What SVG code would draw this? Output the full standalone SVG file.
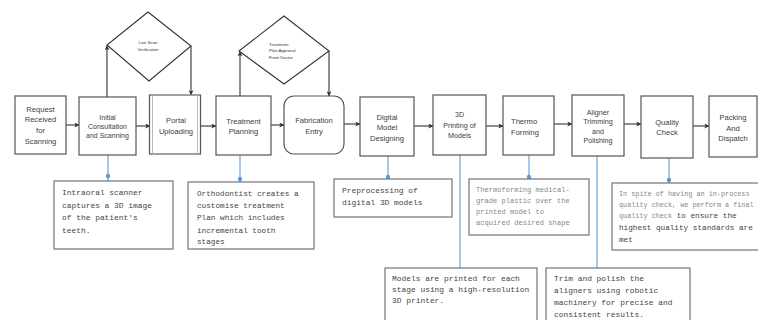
<svg xmlns="http://www.w3.org/2000/svg" width="758" height="320" viewBox="0 0 758 320">
<defs>
<marker id="ah" viewBox="0 0 8 8" refX="7.5" refY="4" markerWidth="5" markerHeight="5" orient="auto" markerUnits="userSpaceOnUse">
<path d="M0,0 L8,4 L0,8 L2,4 Z" fill="#333"/>
</marker>
</defs>
<style>
.box{fill:#fff;stroke:#555;stroke-width:1.2}
.lbl{font-family:"Liberation Sans","Open Sans",sans-serif;font-size:7.6px;fill:#404040;text-anchor:middle}
.dia{fill:#fff;stroke:#333;stroke-width:1.1}
.dt{font-family:"Liberation Sans",sans-serif;font-size:4.3px;fill:#333}
.con{stroke:#333;stroke-width:1.1;fill:none}
.blue{stroke:#5b9bd5;stroke-width:1.1;fill:none}
.dot{fill:#5b9bd5}
.cb{fill:#fff;stroke:#666;stroke-width:1.1}
.ct{font-family:"Liberation Mono","DejaVu Sans Mono",monospace;font-size:7.9px;fill:#444}
.cg{font-family:"Liberation Mono","DejaVu Sans Mono",monospace;font-size:7.1px;fill:#888}
</style>
<rect width="758" height="320" fill="#fff"/>

<g id="connectors">
<line class="con" x1="66" y1="125" x2="79" y2="125" marker-end="url(#ah)"/>
<line class="con" x1="136" y1="126" x2="150" y2="126" marker-end="url(#ah)"/>
<line class="con" x1="201" y1="126" x2="216" y2="126" marker-end="url(#ah)"/>
<line class="con" x1="271" y1="125" x2="284" y2="125" marker-end="url(#ah)"/>
<line class="con" x1="344" y1="124" x2="360" y2="124" marker-end="url(#ah)"/>
<line class="con" x1="414" y1="126" x2="433" y2="126" marker-end="url(#ah)"/>
<line class="con" x1="486" y1="126" x2="503" y2="126" marker-end="url(#ah)"/>
<line class="con" x1="554" y1="124" x2="572" y2="124" marker-end="url(#ah)"/>
<line class="con" x1="624" y1="124" x2="641" y2="124" marker-end="url(#ah)"/>
<line class="con" x1="693" y1="126" x2="709" y2="126" marker-end="url(#ah)"/>
<line class="con" x1="107" y1="97" x2="107" y2="45.5" marker-end="url(#ah)"/>
<line class="con" x1="191" y1="46" x2="191" y2="95" marker-end="url(#ah)"/>
<line class="con" x1="240" y1="96" x2="240" y2="51.5" marker-end="url(#ah)"/>
<line class="con" x1="329" y1="51" x2="329" y2="96" marker-end="url(#ah)"/>
<line class="blue" x1="108" y1="155" x2="108" y2="181"/>
<circle class="dot" cx="108" cy="176" r="2.2"/>
<line class="blue" x1="240" y1="155" x2="240" y2="182"/>
<circle class="dot" cx="240" cy="179" r="2.2"/>
<line class="blue" x1="388" y1="156" x2="388" y2="179"/>
<circle class="dot" cx="388" cy="177" r="2.2"/>
<line class="blue" x1="460" y1="155" x2="460" y2="268"/>
<line class="blue" x1="529" y1="155" x2="529" y2="179"/>
<circle class="dot" cx="529" cy="177" r="2.2"/>
<line class="blue" x1="597" y1="156" x2="597" y2="268"/>
<line class="blue" x1="669" y1="158" x2="669" y2="183"/>
<circle class="dot" cx="669" cy="180" r="2.2"/>
</g>

<g id="n-request"><rect class="box" x="15" y="96" width="51" height="58"/>
<text class="lbl"><tspan x="40.5" y="111.5">Request</tspan><tspan x="40.5" y="122">Received</tspan><tspan x="40.5" y="132.5">for</tspan><tspan x="40.5" y="143.5">Scanning</tspan></text></g>

<g id="n-initial"><rect class="box" x="79" y="97" width="57" height="58"/>
<text class="lbl" style="font-size:7px"><tspan x="107.5" y="119.5">Initial</tspan><tspan x="107.5" y="128.5">Consultation</tspan><tspan x="107.5" y="137.5">and Scanning</tspan></text></g>

<g id="n-portal"><rect class="box" x="149.5" y="95" width="51" height="59"/>
<rect x="152.5" y="95" width="45" height="59" fill="none" stroke="#aaa" stroke-width="0.8"/>
<text class="lbl"><tspan x="176" y="122.5">Portal</tspan><tspan x="176" y="133.5">Uploading</tspan></text></g>

<g id="n-treatment"><rect class="box" x="216" y="96" width="55" height="59"/>
<text class="lbl"><tspan x="243.5" y="123.5">Treatment</tspan><tspan x="243.5" y="133.5">Planning</tspan></text></g>

<g id="n-fabrication"><rect class="box" x="284" y="96" width="60" height="58" rx="10"/>
<text class="lbl"><tspan x="314" y="122.5">Fabrication</tspan><tspan x="314" y="133.5">Entry</tspan></text></g>

<g id="n-digital"><rect class="box" x="360" y="97" width="54" height="59"/>
<text class="lbl"><tspan x="387" y="119.5">Digital</tspan><tspan x="387" y="130">Model</tspan><tspan x="387" y="140.5">Designing</tspan></text></g>

<g id="n-3d"><rect class="box" x="433" y="95" width="53" height="60"/>
<text class="lbl" style="font-size:7.2px"><tspan x="459.5" y="116.5">3D</tspan><tspan x="459.5" y="127.5">Printing of</tspan><tspan x="459.5" y="137.5">Models</tspan></text></g>

<g id="n-thermo"><rect class="box" x="503" y="96" width="51" height="59"/>
<text class="lbl" style="text-anchor:start"><tspan x="511" y="123.5">Thermo</tspan><tspan x="511" y="134.5">Forming</tspan></text></g>

<g id="n-aligner"><rect class="box" x="572" y="95" width="52" height="61"/>
<text class="lbl" style="font-size:7.2px"><tspan x="598" y="114.5">Aligner</tspan><tspan x="598" y="123.5">Trimming</tspan><tspan x="598" y="133.5">and</tspan><tspan x="598" y="142.5">Polishing</tspan></text></g>

<g id="n-quality"><rect class="box" x="641" y="96" width="52" height="62"/>
<text class="lbl"><tspan x="667" y="124.5">Quality</tspan><tspan x="667" y="134.5">Check</tspan></text></g>

<g id="n-packing"><rect class="box" x="709" y="96" width="48" height="61"/>
<text class="lbl"><tspan x="733" y="119.5">Packing</tspan><tspan x="733" y="130.5">And</tspan><tspan x="733" y="140.5">Dispatch</tspan></text></g>

<g id="d-livescan"><polygon class="dia" points="148,12 191,46 149,81 107,45"/>
<text class="dt" text-anchor="middle"><tspan x="148" y="44">Live Scan</tspan><tspan x="148" y="50.5">Verification</tspan></text></g>

<g id="d-approval"><polygon class="dia" points="284,16 329,51 284,84 239,51"/>
<text class="dt"><tspan x="269" y="45.5">Treatment</tspan><tspan x="269" y="52">Plan Approval</tspan><tspan x="269" y="58.5">From Doctor</tspan></text></g>

<g id="c-initial"><rect class="cb" x="54" y="181" width="119" height="68"/>
<text class="ct"><tspan x="62" y="195">Intraoral scanner</tspan><tspan x="62" y="207.5">captures a 3D image</tspan><tspan x="62" y="220">of the patient's</tspan><tspan x="62" y="232.5">teeth.</tspan></text></g>

<g id="c-treatment"><rect class="cb" x="188" y="182" width="126" height="67"/>
<text class="ct" style="font-size:7.7px"><tspan x="197" y="195.5">Orthodontist creates a</tspan><tspan x="197" y="207.5">customise treatment</tspan><tspan x="197" y="220">Plan which includes</tspan><tspan x="197" y="232.5">incremental tooth</tspan><tspan x="197" y="244">stages</tspan></text></g>

<g id="c-digital"><rect class="cb" x="334" y="179" width="118" height="38"/>
<text class="ct"><tspan x="342" y="193">Preprocessing of</tspan><tspan x="342" y="205">digital 3D models</tspan></text></g>

<g id="c-3d"><rect class="cb" x="385" y="268" width="152" height="60"/>
<text class="ct"><tspan x="392" y="280.5">Models are printed for each</tspan><tspan x="392" y="292">stage using a high-resolution</tspan><tspan x="392" y="303">3D printer.</tspan></text></g>

<g id="c-thermo"><rect class="cb" x="469" y="179" width="120" height="56"/>
<text class="cg"><tspan x="476" y="191.5">Thermoforming medical-</tspan><tspan x="476" y="202.5">grade plastic over the</tspan><tspan x="476" y="213.5">printed model to</tspan><tspan x="476" y="224.5">acquired desired shape</tspan></text></g>

<g id="c-aligner"><rect class="cb" x="546" y="268" width="144" height="60"/>
<text class="ct"><tspan x="554" y="280.5">Trim and polish the</tspan><tspan x="554" y="293">aligners using robotic</tspan><tspan x="554" y="304.5">machinery for precise and</tspan><tspan x="554" y="316.5">consistent results.</tspan></text></g>

<g id="c-quality"><rect class="cb" x="612" y="183" width="150" height="67"/>
<text class="cg" style="font-size:6.8px"><tspan x="619" y="195.5">In spite of having an in-process</tspan><tspan x="619" y="206.5">quality check, we perform a final</tspan><tspan x="619" y="218">quality check<tspan class="ct" style="font-size:7.7px"> to ensure the</tspan></tspan></text>
<text class="ct" style="font-size:7.7px"><tspan x="619" y="230">highest quality standards are</tspan><tspan x="619" y="242">met</tspan></text></g>
</svg>
